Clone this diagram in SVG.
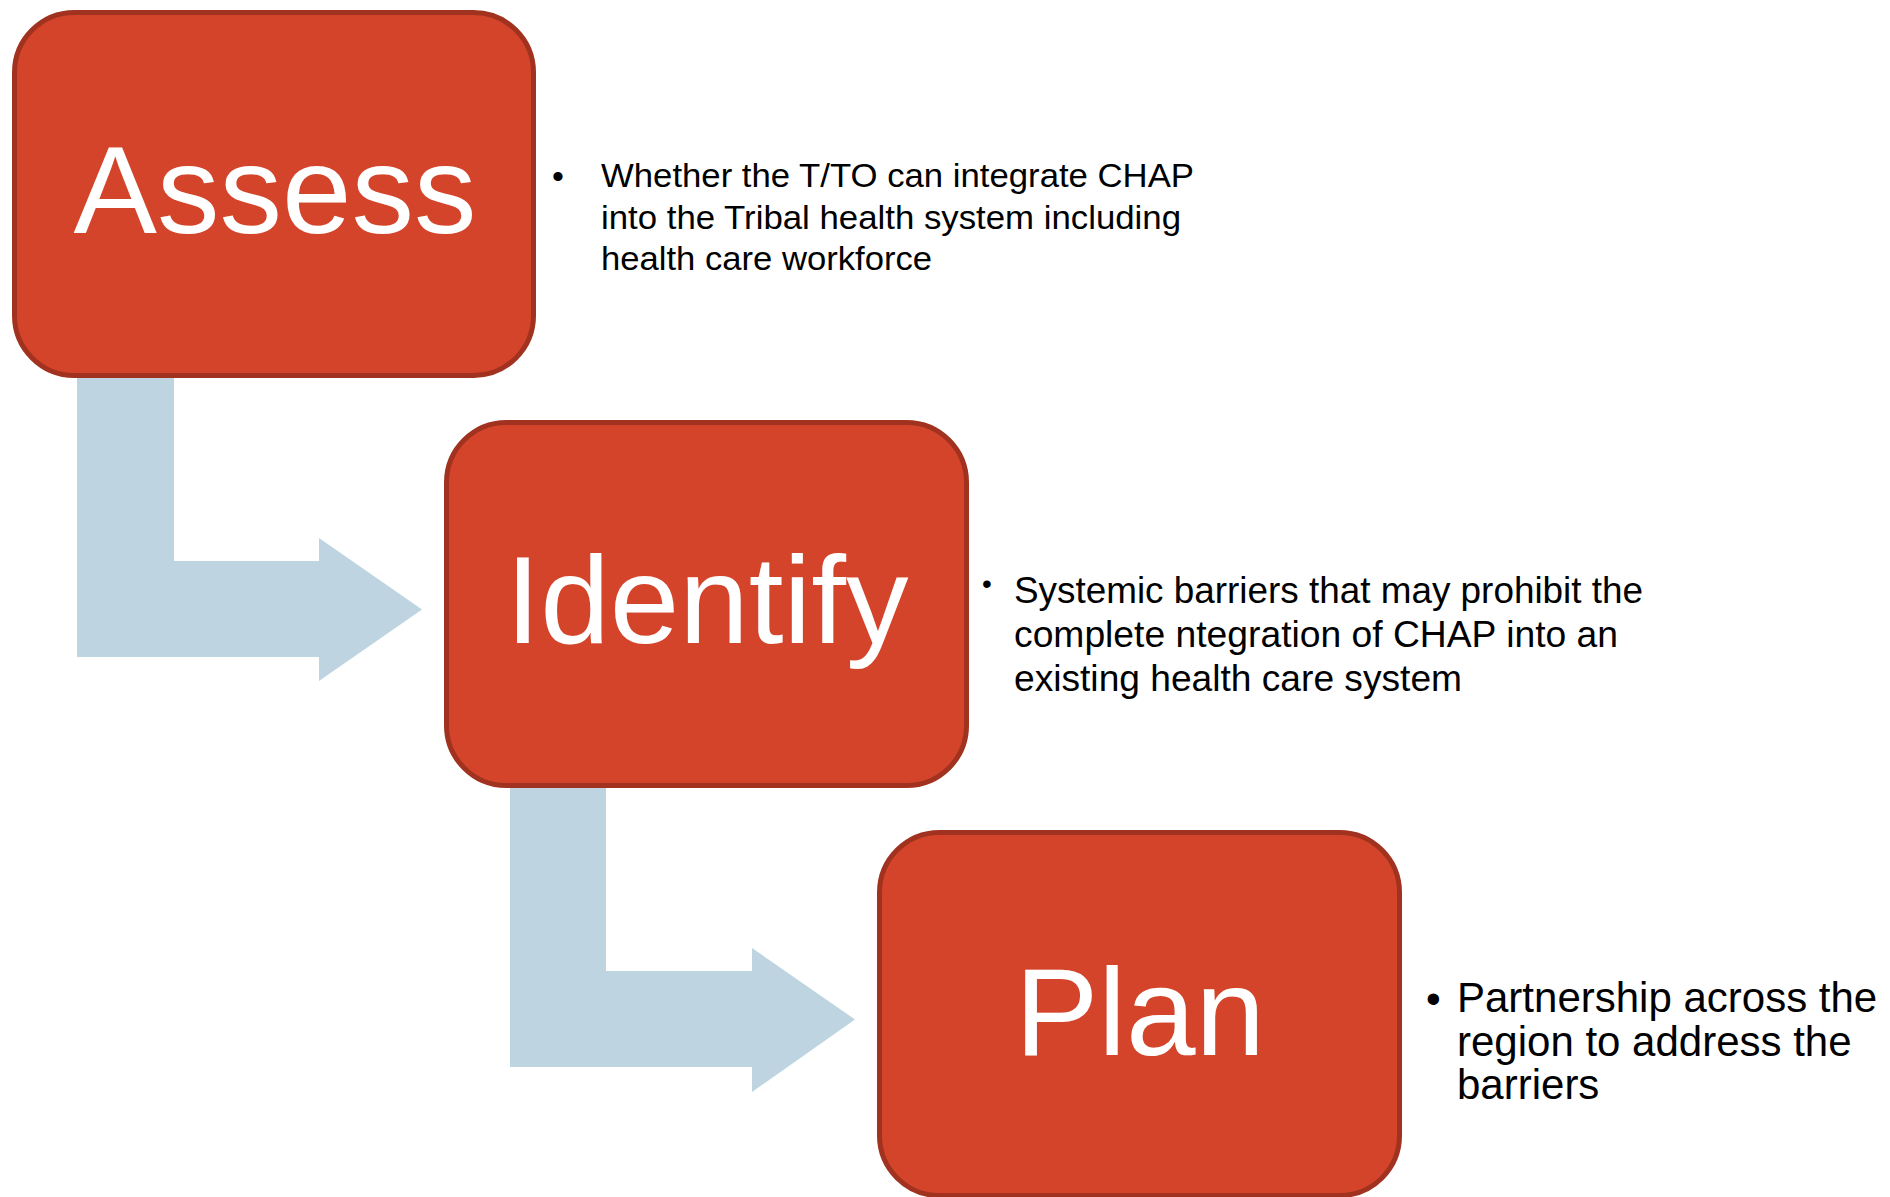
<svg xmlns="http://www.w3.org/2000/svg" width="1890" height="1197" viewBox="0 0 1890 1197">
<style>
.box{fill:#D4442A;stroke:#A0321F;stroke-width:5}
.lbl{font-family:"Liberation Sans",Arial,sans-serif;font-size:125px;fill:#FFFFFF;text-anchor:middle}
.arr{fill:#BED4E1}
.t{font-family:"Liberation Sans",Arial,sans-serif;fill:#000000}
</style>
<rect width="1890" height="1197" fill="#FFFFFF"/>
<g id="connectors">
<path class="arr" d="M77,378 L174,378 L174,561 L319,561 L319,538 L422,609.5 L319,681 L319,657 L77,657 Z"/>
<path class="arr" d="M510,788 L606,788 L606,971 L752,971 L752,948 L855,1019.5 L752,1092 L752,1067 L510,1067 Z"/>
</g>
<g id="assess">
<rect class="box" x="14.5" y="12.5" width="519" height="363" rx="60"/>
<text class="lbl" x="275" y="233">Assess</text>
</g>
<g id="identify">
<rect class="box" x="446.5" y="422.5" width="520" height="363" rx="60"/>
<text class="lbl" x="707" y="643">Identify</text>
</g>
<g id="plan">
<rect class="box" x="879.5" y="832.5" width="520" height="363" rx="60"/>
<text class="lbl" x="1140" y="1055">Plan</text>
</g>
<g id="note-assess" class="t" font-size="34">
<text x="552" y="188">•</text>
<text x="601" y="187" textLength="593" lengthAdjust="spacingAndGlyphs">Whether the T/TO can integrate CHAP</text>
<text x="601" y="229" textLength="580" lengthAdjust="spacingAndGlyphs">into the Tribal health system including</text>
<text x="601" y="270" textLength="331" lengthAdjust="spacingAndGlyphs">health care workforce</text>
</g>
<g id="note-identify" class="t" font-size="36">
<text x="982" y="593" font-size="28">•</text>
<text x="1014" y="603" textLength="629" lengthAdjust="spacingAndGlyphs">Systemic barriers that may prohibit the</text>
<text x="1014" y="647" textLength="604" lengthAdjust="spacingAndGlyphs">complete ntegration of CHAP into an</text>
<text x="1014" y="691" textLength="448" lengthAdjust="spacingAndGlyphs">existing health care system</text>
</g>
<g id="note-plan" class="t" font-size="42">
<text x="1426" y="1013">•</text>
<text x="1457" y="1012">Partnership across the</text>
<text x="1457" y="1056">region to address the</text>
<text x="1457" y="1099">barriers</text>
</g>
</svg>
